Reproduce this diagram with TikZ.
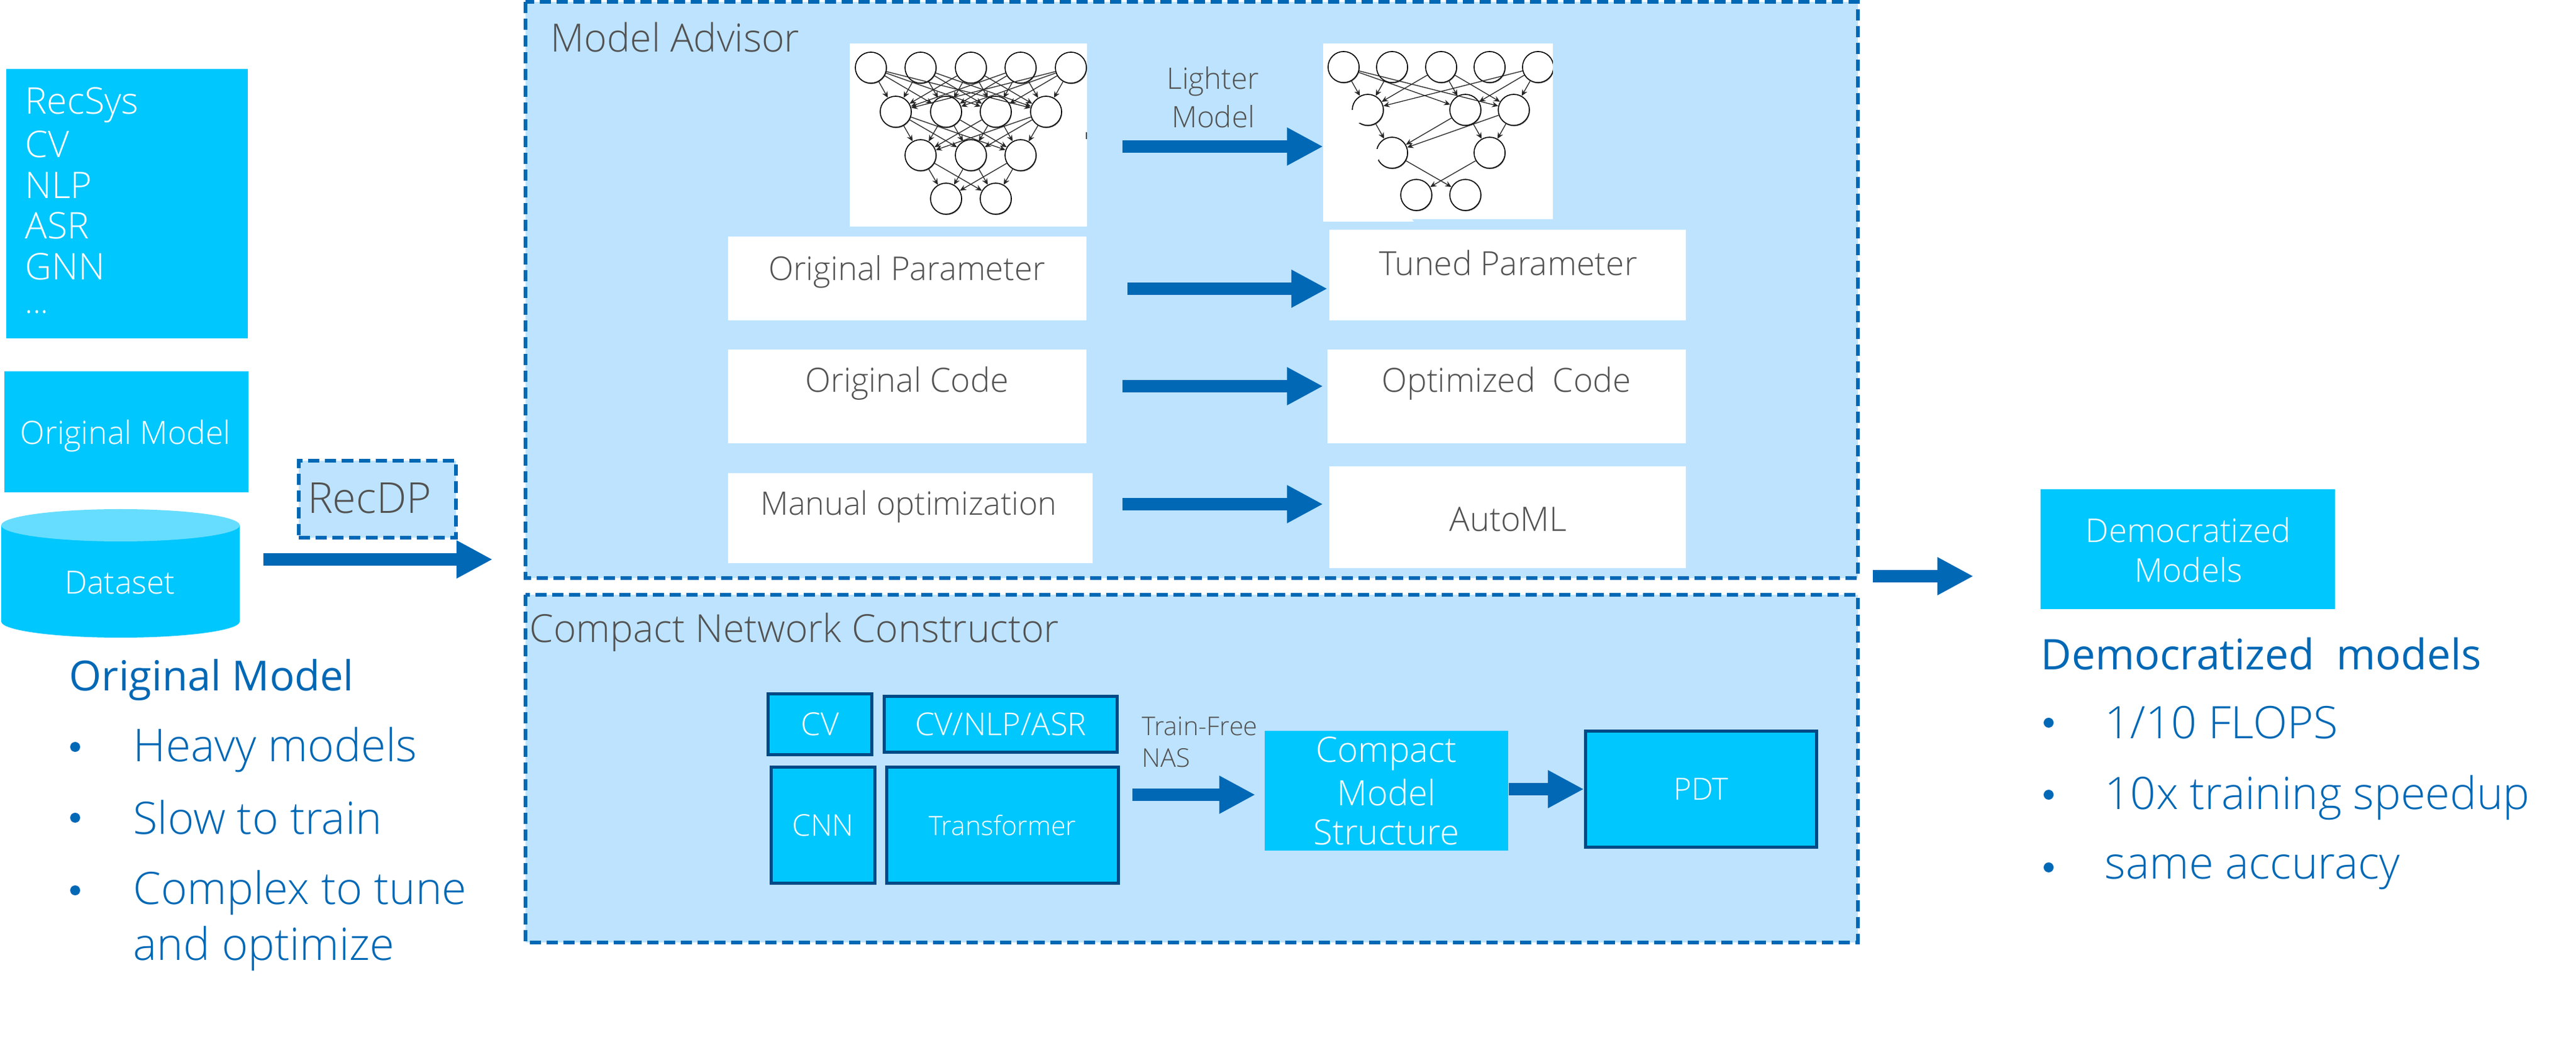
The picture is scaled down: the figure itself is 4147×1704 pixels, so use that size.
\documentclass[tikz,border=0pt]{standalone}
\usepackage{fontspec}
\setmainfont{Open Sans Light}
\newfontfamily\hv{Open Sans}
\usetikzlibrary{arrows.meta}
\definecolor{cyanbox}{HTML}{00C7FD}
\definecolor{cyantop}{HTML}{66DDFE}
\definecolor{panel}{HTML}{BDE3FF}
\definecolor{dashblue}{HTML}{0068B5}
\definecolor{darkedge}{HTML}{004A86}
\definecolor{graytext}{HTML}{525252}
\newcommand{\fz}[1]{\fontsize{#1}{#1}\selectfont}
\tikzset{
  x=0.01cm,y=-0.01cm,
  panelbox/.style={draw=dashblue,fill=panel,line width=0.06cm,dash pattern=on 0.18cm off 0.09cm},
  cyanrect/.style={fill=cyanbox},
  edgedrect/.style={fill=cyanbox,draw=darkedge,line width=0.05cm},
  blockarrow/.style={draw=dashblue,line width=0.2cm,-{Triangle[length=0.58cm,width=0.57cm]},shorten >=0pt},
  netnode/.style={circle,draw=black,fill=white,line width=0.016cm,minimum size=0.5cm,inner sep=0pt},
  netshadow/.style={circle,fill=black!40,minimum size=0.5cm,inner sep=0pt},
  netedge/.style={draw=black!85,line width=0.013cm,-{Stealth[length=0.1cm,width=0.09cm]}},
  lab/.style={inner sep=0pt,text=graytext},
  wlab/.style={inner sep=0pt,text=white,align=center},
  hlab/.style={inner sep=0pt,text=dashblue,anchor=west},
}
\begin{document}
\begin{tikzpicture}
\useasboundingbox (0,0) rectangle (4147,1704);
% left boxes
\fill[cyanrect] (10,111) rectangle (399,545);
\node[wlab,anchor=west,font=\fz{16.8}] (list1) at (40,169) {RecSys};
\node[wlab,anchor=west,font=\fz{16.8}] (list2) at (40,232) {CV};
\node[wlab,anchor=west,font=\fz{16.8}] (list3) at (40,298) {NLP};
\node[wlab,anchor=west,font=\fz{16.8}] (list4) at (40,363) {ASR};
\node[wlab,anchor=west,font=\fz{16.8}] (list5) at (40,429) {GNN};
\node[wlab,anchor=west,font=\fz{15}] (list6) at (40,502) {...};
\fill[cyanrect] (7,598) rectangle (400,793);
\node[wlab,font=\fz{14.7}] (origlab) at (202,702) {Original Model};
% cylinder
\fill[cyanbox] (2,846) -- (2,1001) arc[start angle=180,end angle=360,x radius=192,y radius=-26] -- (386,846) -- cycle;
\fill[cyantop] (194,846) ellipse[x radius=192,y radius=26];
\node[wlab,font=\fz{14.6}] (dataset) at (193,938) {Dataset};
% RecDP
\node[panelbox,minimum width=2.52cm,minimum height=1.23cm,inner sep=0pt] (recdp) at (607.5,804) {};
\node[lab,font=\fz{19.5}] (recdplab) at (595,802) {RecDP};
\coordinate (a0s) at (424,901); \coordinate (a0e) at (793,901);
\draw[blockarrow] (a0s) -- (a0e);
% left text
\node[hlab,font=\hv\fz{19}] (h1) at (111,1095) {Original Model};
\node[hlab,font=\fz{20.7}] (la) at (214,1208) {Heavy models};
\node[hlab,font=\fz{20.5}] (lb) at (214,1316) {Slow to train};
\node[hlab,font=\fz{20.5}] (lc) at (214,1438) {Complex to tune};
\node[hlab,font=\fz{20.5}] (ld) at (214,1528) {and optimize};
\foreach \yy in {1203,1317,1434}
  \fill[dashblue] (121,\yy) circle (8);
% panels
\draw[panelbox] (846,3) rectangle (2991,931);
\draw[panelbox] (846,958) rectangle (2991,1518);
\node[lab,anchor=west,font=\fz{17.8}] (ma) at (886,60) {Model Advisor};
\node[lab,anchor=west,font=\fz{17.7}] (cnc) at (852,1018) {Compact Network Constructor};
% white images
\fill[white] (1368,70) rectangle (1750,365);
\fill[white] (2130,70) rectangle (2500,353);
\fill[white] (2130,353) -- (2273,353) -- (2276,357) -- (2130,357) -- cycle;
\fill[black!70] (1748,213) rectangle (1750,224);
% network A
\foreach \i/\xx in {1/1402,2/1482,3/1563,4/1643,5/1724} {\node[netshadow] at (\xx+1,110.5) {}; \node[netnode] (a\i) at (\xx,109) {};}
\foreach \i/\xx in {1/1442,2/1523,3/1603,4/1684} {\node[netshadow] at (\xx+1,181.5) {}; \node[netnode] (b\i) at (\xx,180) {};}
\foreach \i/\xx in {1/1482,2/1563,3/1643} {\node[netshadow] at (\xx+1,251.5) {}; \node[netnode] (c\i) at (\xx,250) {};}
\foreach \i/\xx in {1/1523,2/1603} {\node[netshadow] at (\xx+1,321.5) {}; \node[netnode] (d\i) at (\xx,320) {};}
\foreach \i in {1,2,3,4,5} \foreach \j in {1,2,3,4} \draw[netedge] (a\i) -- (b\j);
\foreach \i in {1,2,3,4} \foreach \j in {1,2,3} \draw[netedge] (b\i) -- (c\j);
\foreach \i in {1,2,3} \foreach \j in {1,2} \draw[netedge] (c\i) -- (d\j);
% network B
\foreach \i/\xx in {1/2163,2/2241,3/2320,4/2398,5/2476} {\node[netshadow] at (\xx+1,109.5) {}; \node[netnode] (e\i) at (\xx,108) {};}
\foreach \i/\xx in {1/2202,2/2359,3/2437} {\node[netshadow] at (\xx+1,178.5) {}; \node[netnode] (f\i) at (\xx,177) {};}
\foreach \i/\xx in {1/2241,2/2398} {\node[netshadow] at (\xx+1,247.5) {}; \node[netnode] (g\i) at (\xx,246) {};}
\foreach \i/\xx in {1/2280,2/2359} {\node[netshadow] at (\xx+1,315.5) {}; \node[netnode] (h\i) at (\xx,314) {};}
\foreach \p/\q in {e1/f1,e1/f2,e1/f3,e2/f1,e3/f1,e3/f2,e3/f3,e5/f1,e5/f2,e5/f3,f1/g1,f2/g1,f2/g2,f3/g1,f3/g2,g1/h2,g2/h1}
  \draw[netedge] (\p) -- (\q);
\fill[white] (2175,177) rectangle (2191,198);
\fill[white] (2214,240) rectangle (2219,258);
\fill[panel] (2500,70) rectangle (2504,140);
% Lighter model
\node[lab,align=center,font=\fz{13.5}] (lm1) at (1953,131) {Lighter};
\node[lab,align=center,font=\fz{13.5}] (lm2) at (1953,188) {Model};
\coordinate (a1s) at (1807,236); \coordinate (a1e) at (2130,236);
\draw[blockarrow] (a1s) -- (a1e);
% white rows
\fill[white] (1172,381) rectangle (1749,516);
\fill[white] (2140,370) rectangle (2714,516);
\fill[white] (1172,563) rectangle (1749,714);
\fill[white] (2137,563) rectangle (2714,714);
\fill[white] (1172,762) rectangle (1759,907);
\fill[white] (2140,751) rectangle (2714,915);
\node[lab,font=\fz{15}] (p1) at (1460,438) {Original Parameter};
\node[lab,font=\fz{15.2}] (p2) at (2428,423) {Tuned Parameter};
\node[lab,font=\fz{15.3}] (c1) at (1460,618) {Original Code};
\node[lab,font=\fz{15.2}] (c2) at (2425,618) {Optimized~ Code};
\node[lab,font=\fz{14.8}] (m1) at (1463,816) {Manual optimization};
\node[lab,font=\fz{15.4}] (m2) at (2428,836) {AutoML};
\coordinate (a2s) at (1815,465); \coordinate (a2e) at (2137,465);
\coordinate (a3s) at (1807,622); \coordinate (a3e) at (2130,622);
\coordinate (a4s) at (1807,812); \coordinate (a4e) at (2130,812);
\draw[blockarrow] (a2s) -- (a2e);
\draw[blockarrow] (a3s) -- (a3e);
\draw[blockarrow] (a4s) -- (a4e);
% output arrow
\coordinate (a5s) at (3015,928); \coordinate (a5e) at (3177,928);
\draw[blockarrow] (a5s) -- (a5e);
% Compact section
\node[edgedrect,minimum width=1.67cm,minimum height=0.98cm,inner sep=0pt,text=white,font=\fz{14.5}] (cv) at (1320,1166.5) {CV};
\node[edgedrect,minimum width=3.75cm,minimum height=0.90cm,inner sep=0pt,text=white,font=\fz{14.4}] (cvn) at (1611,1166.5) {CV/NLP/ASR};
\node[edgedrect,minimum width=1.67cm,minimum height=1.87cm,inner sep=0pt,text=white,font=\fz{13.7}] (cnn) at (1325,1329) {CNN};
\node[edgedrect,minimum width=3.73cm,minimum height=1.87cm,inner sep=0pt,text=white,font=\fz{12.2}] (tra) at (1614,1329) {Transformer};
\node[lab,anchor=west,font=\fz{11.8}] (tf1) at (1838,1170) {Train-Free};
\node[lab,anchor=west,font=\fz{11.8}] (tf2) at (1838,1221) {NAS};
\fill[cyanrect] (2036,1177) rectangle (2428,1370);
\node[inner sep=0pt,minimum width=3.92cm,minimum height=1.93cm] (cms) at (2232,1273.5) {};
\node[wlab,font=\fz{16}] (cms1) at (2232,1214) {Compact};
\node[wlab,font=\fz{16}] (cms2) at (2232,1276) {Model};
\node[wlab,font=\fz{16}] (cms3) at (2232,1340) {Structure};
\node[edgedrect,minimum width=3.72cm,minimum height=1.87cm,inner sep=0pt,text=white,font=\fz{14}] (pdt) at (2738.5,1271) {PDT};
\coordinate (a6s) at (1823,1280); \coordinate (a6e) at (2021,1280);
\draw[blockarrow] (a6s) -- (a6e);
\draw[blockarrow] (cms.east |- pdt.west) -- (pdt.west);
% right
\fill[cyanrect] (3285,788) rectangle (3759,981);
\node[wlab,font=\fz{15}] (dm1) at (3523,854) {Democratized};
\node[wlab,font=\fz{15}] (dm2) at (3523,918) {Models};
\node[hlab,font=\hv\fz{19.3}] (h2) at (3285,1053) {Democratized~ models};
\node[hlab,font=\fz{20.5}] (ra) at (3388,1164) {1/10 FLOPS};
\node[hlab,font=\fz{20.5}] (rb) at (3388,1285) {10x training speedup};
\node[hlab,font=\fz{20.5}] (rc) at (3388,1405) {same accuracy};
\foreach \yy in {1164,1280,1397}
  \fill[dashblue] (3298,\yy) circle (8);
\end{tikzpicture}
\end{document}
